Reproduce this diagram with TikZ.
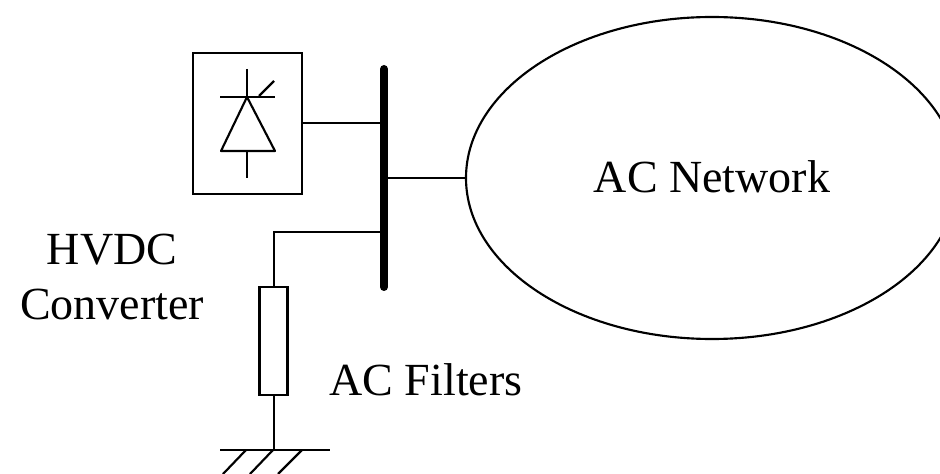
\documentclass[tikz,border=0pt]{standalone}
\usepackage{fontspec}
\setmainfont{Liberation Serif}
\usetikzlibrary{shapes.geometric}

\begin{document}
\begin{tikzpicture}[x=0.75pt,y=-0.75pt,thin,line width=1.6pt,
				main box/.style = {rectangle,draw,inner sep = 0pt,outer sep = 0pt},
				main label/.style = {font=\fontsize{34.5}{41}\selectfont,align=center,inner sep = 0pt}]
				\useasboundingbox (0,0) rectangle (940,474);
				
				\node[main box,minimum width=81.75pt,minimum height=105.75pt] (conv) at (247.5,123.5) {};
				\node[main box,minimum width=21pt,minimum height=81pt] (filter) at (273.5,341) {};
				\node[ellipse,draw,inner sep = 0pt,outer sep = 0pt,minimum width=369pt,minimum height=241.5pt] (net) at (712,178) {};
				
				\coordinate (bustop) at (384,69);
				\coordinate (busbot) at (384,287);
				\coordinate (busa) at (380,123);
				\coordinate (busb) at (384,178);
				\coordinate (busc) at (380,232);
				\coordinate (corner) at (274,232);
				\coordinate (gnd) at (274,450);
				\coordinate (gndl) at (220,450);
				\coordinate (gndr) at (330,450);
				
				\coordinate (ttop) at (247,69);
				\coordinate (apex) at (247,97);
				\coordinate (barl) at (220,97);
				\coordinate (barr) at (275,97);
				\coordinate (gatea) at (259,96);
				\coordinate (gateb) at (274,81);
				\coordinate (basel) at (221,151);
				\coordinate (baser) at (275,151);
				\coordinate (basem) at (247,151);
				\coordinate (tbot) at (247,178);
				
				\node[main label] (t1) at (712,177) {AC Network};
				\node[main label] (t2) at (112,277) {HVDC\\Converter};
				\node[main label] (t3) at (426,380) {AC Filters};
				
				\draw[line width=6pt,line cap=round] (bustop) -- (busbot);
				
				\draw (conv.east |- busa) -- (busa);
				\draw (busb) -- (net.west);
				\draw (busc) -- (corner) -- (filter.north -| corner);
				\draw (filter.south -| gnd) -- (gnd);
				\draw (gndl) -- (gndr);
				
				% thyristor
				\draw (ttop) -- (apex);
				\draw (barl) -- (barr);
				\draw (gatea) -- (gateb);
				\draw[line join=round] (apex) -- (baser) -- (basel) -- cycle;
				\draw (basem) -- (tbot);
				
				% ground hatch
				\foreach \x/\y in {246/223,273/250,302/278}
				\draw (\x,450) -- (\y,474);
\end{tikzpicture}
\end{document}
